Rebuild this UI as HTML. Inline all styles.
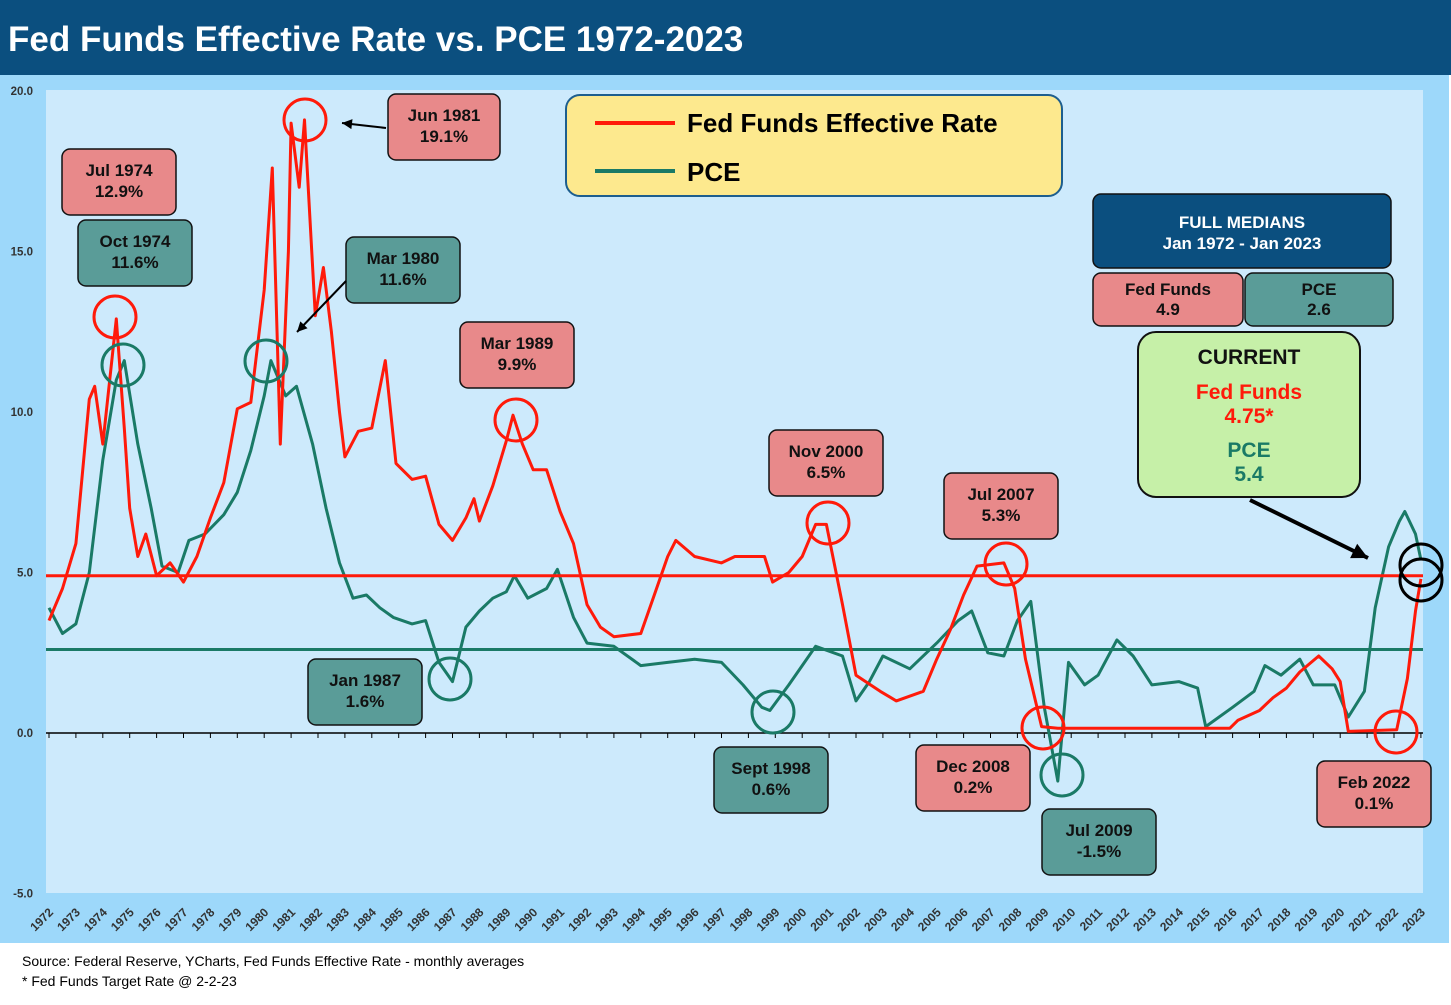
<!DOCTYPE html>
<html><head><meta charset="utf-8">
<style>
body{margin:0;width:1451px;height:1000px;overflow:hidden;background:#fff;font-family:"Liberation Sans",Arial,sans-serif;}
svg text{font-family:"Liberation Sans",Arial,sans-serif;}
</style></head>
<body>
<svg id="c" width="1451" height="1000" xmlns="http://www.w3.org/2000/svg">
<rect x="0" y="0" width="1451" height="75" fill="#0b4f7f"/>
<text x="8" y="51" font-size="35" font-weight="bold" fill="#fff">Fed Funds Effective Rate vs. PCE 1972-2023</text>
<rect x="0" y="75" width="1449" height="868" fill="#9dd8fa"/>
<rect x="46" y="90" width="1377" height="803" fill="#cdeafc"/>
<g id="yaxis"></g>
<g id="xaxis"></g>
<g id="series"></g>
<g id="ann"></g>
<text x="22" y="966" font-size="14" fill="#000">Source: Federal Reserve, YCharts, Fed Funds Effective Rate - monthly averages</text>
<text x="22" y="986" font-size="14" fill="#000">* Fed Funds Target Rate @ 2-2-23</text>
</svg>
<script>
const yTicks=[20,15,10,5,0,-5];
const years=[];for(let y=1972;y<=2023;y++)years.push(y);
const ffDates=[1972.0,1972.5,1973.0,1973.5,1973.7,1974.0,1974.5,1974.8,1975.0,1975.3,1975.6,1976.0,1976.5,1977.0,1977.5,1978.0,1978.5,1979.0,1979.5,1980.0,1980.3,1980.6,1980.9,1981.0,1981.3,1981.5,1981.9,1982.2,1982.5,1982.8,1983.0,1983.5,1984.0,1984.5,1984.9,1985.5,1986.0,1986.5,1987.0,1987.5,1987.8,1988.0,1988.5,1989.0,1989.25,1989.6,1990.0,1990.5,1991.0,1991.5,1992.0,1992.5,1993.0,1994.0,1994.5,1995.0,1995.3,1996.0,1997.0,1997.5,1998.0,1998.6,1998.9,1999.5,2000.0,2000.5,2000.9,2001.5,2002.0,2002.9,2003.5,2004.5,2005.0,2005.5,2006.0,2006.5,2007.5,2007.9,2008.3,2008.9,2009.5,2015.9,2016.2,2017.0,2017.5,2018.0,2018.5,2019.2,2019.7,2020.0,2020.3,2022.1,2022.5,2022.8,2023.0];
const ffValues=[3.5,4.5,5.9,10.4,10.8,9.0,12.9,9.5,7.0,5.5,6.2,4.9,5.3,4.7,5.5,6.7,7.8,10.1,10.3,13.8,17.6,9.0,15,19.0,17,19.1,13,14.5,12.5,10,8.6,9.4,9.5,11.6,8.4,7.9,8.0,6.5,6.0,6.7,7.3,6.6,7.7,9.1,9.9,9.0,8.2,8.2,6.9,5.9,4.0,3.3,3.0,3.1,4.3,5.5,6.0,5.5,5.3,5.5,5.5,5.5,4.7,5.0,5.5,6.5,6.5,4.0,1.8,1.3,1.0,1.3,2.3,3.2,4.3,5.2,5.3,4.5,2.3,0.2,0.15,0.15,0.4,0.7,1.1,1.4,1.9,2.4,2.0,1.6,0.05,0.1,1.7,3.8,4.8];
const pceDates=[1972.0,1972.5,1973.0,1973.5,1974.0,1974.5,1974.8,1975.3,1975.8,1976.2,1976.8,1977.2,1977.8,1978.5,1979.0,1979.5,1980.0,1980.25,1980.8,1981.2,1981.8,1982.3,1982.8,1983.3,1983.8,1984.3,1984.8,1985.5,1986.0,1986.5,1987.0,1987.5,1988.0,1988.5,1989.0,1989.3,1989.8,1990.5,1990.9,1991.5,1992.0,1993.0,1994.0,1995.0,1996.0,1997.0,1997.8,1998.5,1998.8,1999.5,2000.0,2000.5,2001.5,2002.0,2002.5,2003.0,2004.0,2005.0,2005.8,2006.3,2006.9,2007.5,2008.0,2008.5,2009.0,2009.5,2009.9,2010.5,2011.0,2011.7,2012.3,2013.0,2014.0,2014.7,2015.0,2016.0,2016.8,2017.2,2017.8,2018.5,2019.0,2019.8,2020.3,2020.9,2021.3,2021.8,2022.2,2022.4,2022.8,2023.0];
const pceValues=[3.9,3.1,3.4,5.0,8.5,11.0,11.6,9.0,7.0,5.2,5.0,6.0,6.2,6.8,7.5,8.8,10.5,11.6,10.5,10.8,9.0,7.0,5.3,4.2,4.3,3.9,3.6,3.4,3.5,2.2,1.6,3.3,3.8,4.2,4.4,4.9,4.2,4.5,5.1,3.6,2.8,2.7,2.1,2.2,2.3,2.2,1.5,0.8,0.7,1.5,2.1,2.7,2.4,1.0,1.6,2.4,2.0,2.8,3.5,3.8,2.5,2.4,3.5,4.1,0.8,-1.5,2.2,1.5,1.8,2.9,2.4,1.5,1.6,1.4,0.2,0.8,1.3,2.1,1.8,2.3,1.5,1.5,0.5,1.3,3.9,5.8,6.6,6.9,6.2,5.4];
const medians=[4.9,2.6];
const NS='http://www.w3.org/2000/svg';
const X=t=>49+(t-1972)*26.9;
const Y=v=>733-v*32.1;
function mk(p,tag,a){const e=document.createElementNS(NS,tag);for(const k in a)e.setAttribute(k,a[k]);p.appendChild(e);return e;}
const ya=document.getElementById('yaxis');
yTicks.forEach(v=>{const t=mk(ya,'text',{x:33,y:Y(v)+4,'font-size':11.5,'font-weight':'bold','text-anchor':'end',fill:'#333'});t.textContent=v.toFixed(1);

});
const xa=document.getElementById('xaxis');
const ax=mk(xa,'line',{x1:46,x2:1423,y1:Y(0),y2:Y(0),stroke:'#000','stroke-width':1.5});


years.forEach(y=>{const tk=mk(xa,'line',{x1:X(y),x2:X(y),y1:Y(0),y2:Y(0)+5,stroke:'#000'});


const tx=X(y)+5,ty=913;const t=mk(xa,'text',{x:tx,y:ty,'font-size':12,'font-weight':'bold','text-anchor':'end',fill:'#333',transform:`rotate(-45 ${tx} ${ty})`});t.textContent=y;

});
const s=document.getElementById('series');
const m1=mk(s,'line',{x1:46,x2:1423,y1:Y(medians[1]),y2:Y(medians[1]),stroke:'#1a7a66','stroke-width':3});


function path(d,v,c,name){const p=mk(s,'path',{d:d.map((t,i)=>(i?'L':'M')+X(t).toFixed(1)+','+Y(v[i]).toFixed(1)).join(''),fill:'none',stroke:c,'stroke-width':3,'stroke-linejoin':'round'});

}
path(pceDates,pceValues,'#1a7a66','pce-line');
path(ffDates,ffValues,'#ff1a0a','fed-funds-line');
const m2=mk(s,'line',{x1:46,x2:1423,y1:Y(medians[0]),y2:Y(medians[0]),stroke:'#ff1a0a','stroke-width':3});


</script>
<script>
const A=document.getElementById('ann');
const N='http://www.w3.org/2000/svg';
function el(tag,a){const e=document.createElementNS(N,tag);for(const k in a)e.setAttribute(k,a[k]);A.appendChild(e);return e;}
const boxes=[
[62,149,114,66,'#e8898a','Jul 1974','12.9%','label-jul-1974'],
[78,220,114,66,'#5a9c98','Oct 1974','11.6%','label-oct-1974'],
[388,94,112,66,'#e8898a','Jun 1981','19.1%','label-jun-1981'],
[346,237,114,66,'#5a9c98','Mar 1980','11.6%','label-mar-1980'],
[460,322,114,66,'#e8898a','Mar 1989','9.9%','label-mar-1989'],
[308,659,114,66,'#5a9c98','Jan 1987','1.6%','label-jan-1987'],
[769,430,114,66,'#e8898a','Nov 2000','6.5%','label-nov-2000'],
[944,473,114,66,'#e8898a','Jul 2007','5.3%','label-jul-2007'],
[714,747,114,66,'#5a9c98','Sept 1998','0.6%','label-sept-1998'],
[916,745,114,66,'#e8898a','Dec 2008','0.2%','label-dec-2008'],
[1042,809,114,66,'#5a9c98','Jul 2009','-1.5%','label-jul-2009'],
[1317,761,114,66,'#e8898a','Feb 2022','0.1%','label-feb-2022'],
[1093,273,150,53,'#e8898a','Fed Funds','4.9','median-fed-funds'],
[1245,273,148,53,'#5a9c98','PCE','2.6','median-pce']];
boxes.forEach(b=>{const g=document.createElementNS(N,'g');A.appendChild(g);


const r=document.createElementNS(N,'rect');[['x',b[0]],['y',b[1]],['width',b[2]],['height',b[3]],['rx',8],['fill',b[4]],['stroke','#111'],['stroke-width',1.5]].forEach(a=>r.setAttribute(a[0],a[1]));g.appendChild(r);
[b[5],b[6]].forEach((t,i)=>{const tx=document.createElementNS(N,'text');tx.setAttribute('x',b[0]+b[2]/2);tx.setAttribute('y',b[1]+(b[3]>60?27:22)+i*(b[3]>60?21:20));tx.setAttribute('text-anchor','middle');tx.setAttribute('font-size',17);tx.setAttribute('font-weight','bold');tx.setAttribute('fill','#111');tx.textContent=t;g.appendChild(tx);});});
const circles=[[115,317,'#ff1a0a'],[123,365,'#1a7a66'],[305,120,'#ff1a0a'],[266,361,'#1a7a66'],[516,420,'#ff1a0a'],[450,679,'#1a7a66'],[773,712,'#1a7a66'],[828,523,'#ff1a0a'],[1006,564,'#ff1a0a'],[1043,728,'#ff1a0a'],[1062,775,'#1a7a66'],[1396,732,'#ff1a0a'],[1421,565,'#000'],[1421,580,'#000']];
circles.forEach(c=>{const e=el('circle',{cx:c[0],cy:c[1],r:21,fill:'none',stroke:c[2],'stroke-width':3});

});
const arrs=[[386,128,342,123],[346,281,297,332],[1250,500,1368,558]];
arrs.forEach(a=>{const e=el('line',{x1:a[0],y1:a[1],x2:a[2],y2:a[3],stroke:'#000','stroke-width':a[2]>1000?4:2});


const dx=a[2]-a[0],dy=a[3]-a[1],L=Math.hypot(dx,dy),ux=dx/L,uy=dy/L,s=a[2]>1000?16:10;
const h=el('polygon',{points:`${a[2]},${a[3]} ${a[2]-ux*s-uy*s*0.5},${a[3]-uy*s+ux*s*0.5} ${a[2]-ux*s+uy*s*0.5},${a[3]-uy*s-ux*s*0.5}`,fill:'#000'});

});
const lg=el('rect',{x:566,y:95,width:496,height:101,rx:14,fill:'#fde98e',stroke:'#1d5e8e','stroke-width':2});


const l1=el('line',{x1:595,x2:675,y1:123,y2:123,stroke:'#ff1a0a','stroke-width':4});


const l2=el('line',{x1:595,x2:675,y1:171,y2:171,stroke:'#1a7a66','stroke-width':4});


const t1=el('text',{x:687,y:132,'font-size':26,'font-weight':'bold',fill:'#000'});t1.textContent='Fed Funds Effective Rate';


const t2=el('text',{x:687,y:181,'font-size':26,'font-weight':'bold',fill:'#000'});t2.textContent='PCE';


const mh=el('rect',{x:1093,y:194,width:298,height:74,rx:8,fill:'#0b4f7f',stroke:'#111','stroke-width':1.5});


[['FULL MEDIANS',228],['Jan 1972 - Jan 2023',249]].forEach(p=>{const t=el('text',{x:1242,y:p[1],'text-anchor':'middle','font-size':17,'font-weight':'bold',fill:'#fff'});t.textContent=p[0];

});
const cb=el('rect',{x:1138,y:332,width:222,height:165,rx:18,fill:'#c6f0a8',stroke:'#111','stroke-width':2});


[['CURRENT',364,'#111'],['Fed Funds',399,'#ff1a0a'],['4.75*',423,'#ff1a0a'],['PCE',457,'#1a7a66'],['5.4',481,'#1a7a66']].forEach(p=>{const t=el('text',{x:1249,y:p[1],'text-anchor':'middle','font-size':21,'font-weight':'bold',fill:p[2]});t.textContent=p[0];

});
</script>
</body></html>
